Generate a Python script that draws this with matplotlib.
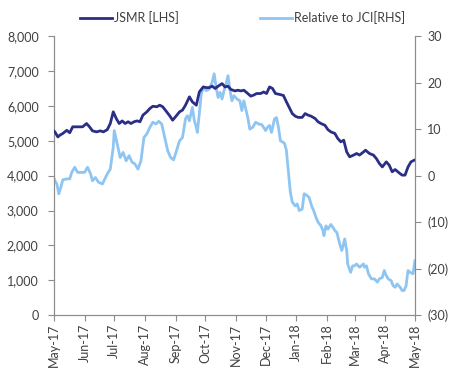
import matplotlib
matplotlib.use("Agg")
import matplotlib.pyplot as plt
import matplotlib.dates as mdates
import matplotlib.ticker as mticker
import pandas as pd

plt.rcParams['font.family'] = ['Lato', 'DejaVu Sans']

start = pd.Timestamp("2017-05-01")

# JSMR share price (LHS), days after 1 May 2017
jsmr_days = [0, 1, 4, 6, 9, 13, 16, 19, 23, 26, 29, 33, 36, 39, 43, 47, 50, 54, 57, 60,
             63, 66, 69, 72, 75, 78, 81, 84, 87, 90, 94, 97, 100, 104, 107, 110, 114, 117, 120, 123,
             127, 130, 133, 137, 140, 144, 147, 151, 154, 157, 160, 163, 166, 170, 173, 176, 179, 183, 186, 189,
             192, 196, 199, 202, 205, 209, 212, 215, 218, 221, 224, 228, 232, 235, 238, 241, 244, 247, 251, 254,
             257, 260, 264, 267, 270, 274, 277, 280, 284, 287, 290, 293, 296, 299, 303, 306, 309, 313, 315, 319,
             323, 326, 329, 332, 336, 339, 342, 345, 349, 352, 355, 358, 361, 364]
jsmr = [5280, 5255, 5110, 5160, 5210, 5300, 5230, 5400, 5400, 5400, 5400, 5495, 5400, 5285, 5255, 5285, 5255, 5320, 5495, 5830,
        5640, 5495, 5570, 5495, 5545, 5495, 5545, 5570, 5545, 5735, 5830, 5925, 5990, 5975, 6020, 5975, 5830, 5720, 5590, 5690,
        5830, 5880, 6020, 6260, 6115, 6020, 6400, 6545, 6525, 6525, 6565, 6500, 6565, 6640, 6545, 6565, 6470, 6430, 6450, 6430,
        6450, 6355, 6280, 6310, 6355, 6355, 6400, 6355, 6545, 6500, 6355, 6330, 6300, 6120, 5950, 5780, 5705, 5670, 5670, 5780,
        5735, 5705, 5640, 5545, 5495, 5445, 5320, 5255, 5210, 5065, 4970, 5015, 4680, 4540, 4590, 4635, 4590, 4680, 4730, 4635,
        4590, 4490, 4350, 4250, 4395, 4300, 4110, 4175, 4080, 4015, 4015, 4250, 4395, 4440]

# relative performance vs JCI (RHS)
rel_days = [0, 1, 3, 5, 7, 9, 13, 16, 18, 21, 24, 28, 31, 34, 37, 39, 42, 45, 49, 51,
            54, 57, 60, 61, 64, 67, 70, 73, 76, 79, 82, 85, 88, 91, 94, 97, 100, 103, 106, 109,
            112, 115, 118, 121, 124, 127, 130, 133, 135, 137, 140, 142, 144, 145, 147, 149, 151, 154, 157, 160,
            162, 164, 166, 168, 170, 172, 174, 176, 178, 180, 182, 185, 188, 190, 192, 194, 196, 198, 201, 204,
            207, 210, 212, 214, 216, 218, 220, 223, 225, 227, 229, 233, 235, 237, 239, 241, 244, 246, 248, 251,
            253, 256, 258, 261, 262, 265, 267, 270, 272, 273, 275, 277, 280, 282, 284, 286, 289, 291, 292, 294,
            296, 297, 300, 302, 304, 306, 309, 313, 314, 316, 318, 321, 324, 327, 329, 332, 334, 336, 338, 341,
            343, 345, 347, 350, 352, 354, 356, 358, 360, 363, 365]
rel = [-0.5, -1.1, -1.8, -3.9, -2.5, -0.9, -0.7, -0.7, 0.7, 1.8, 0.7, 0.7, 0.7, 1.8, 0.4, -1.1, -0.4, -1.4, -1.8, -0.9,
       0.4, 1.4, 6.1, 9.7, 6.8, 3.9, 5.0, 3.2, 4.3, 2.9, 2.5, 1.4, 3.2, 8.2, 9.0, 10.4, 11.5, 11.1, 11.7, 11.1,
       8.2, 5.4, 3.9, 3.4, 5.4, 7.5, 8.2, 12.2, 12.9, 11.8, 14.7, 11.8, 10.4, 9.3, 13.3, 17.6, 19.0, 18.3, 18.6, 20.1,
       21.9, 19.0, 16.8, 17.9, 16.5, 18.3, 19.7, 21.5, 18.3, 16.1, 17.2, 16.5, 16.1, 14.0, 16.1, 14.3, 12.5, 10.0, 10.4, 11.5,
       11.1, 11.0, 10.4, 9.7, 10.4, 10.8, 9.3, 12.2, 12.5, 10.4, 7.5, 7.0, 5.5, 1.1, -3.5, -5.7, -6.5, -6.1, -7.5, -7.2,
       -3.9, -4.3, -4.7, -6.8, -7.2, -9.0, -10.0, -10.8, -11.8, -12.9, -10.8, -11.5, -10.5, -11.1, -11.8, -12.2, -14.7, -16.1, -15.4, -13.6,
       -16.1, -19.0, -20.8, -19.4, -19.4, -19.0, -19.7, -19.0, -19.7, -19.4, -21.1, -22.2, -22.2, -22.9, -22.2, -21.9, -20.4, -21.5, -22.2, -22.6,
       -23.7, -24.0, -23.3, -24.0, -24.7, -24.7, -23.7, -20.4, -20.8, -21.1, -18.3]

jsmr_dates = start + pd.to_timedelta(jsmr_days, unit="D")
rel_dates = start + pd.to_timedelta(rel_days, unit="D")

dark = "#2B2E86"
light = "#8EC5F2"
grey = "#8C8C8C"
txt = "#404040"

fig = plt.figure(figsize=(4.53, 3.69), dpi=100)
ax = fig.add_axes([0.119, 0.146, 0.797, 0.756])
ax2 = ax.twinx()

l1, = ax.plot(jsmr_dates, jsmr, color=dark, lw=2.0, label="JSMR [LHS]", zorder=3)
l2, = ax2.plot(rel_dates, rel, color=light, lw=2.0, label="Relative to JCI[RHS]")
ax.set_zorder(ax2.get_zorder() + 1)
ax.patch.set_visible(False)

ax.set_ylim(0, 8000)
ax.set_yticks(range(0, 8001, 1000))
ax.yaxis.set_major_formatter(mticker.FuncFormatter(lambda v, p: f"{v:,.0f}"))
ax2.set_ylim(-30, 30)
ax2.set_yticks(range(-30, 31, 10))
ax2.yaxis.set_major_formatter(mticker.FuncFormatter(
    lambda v, p: f"({abs(v):.0f})" if v < 0 else f"{v:.0f}"))

ax.set_xlim(pd.Timestamp("2017-05-01"), pd.Timestamp("2018-05-01"))
ax.xaxis.set_major_locator(mdates.MonthLocator())
ax.xaxis.set_major_formatter(mdates.DateFormatter("%b-%y"))
for lab in ax.get_xticklabels():
    lab.set_rotation(90)

for a in (ax, ax2):
    a.spines["top"].set_visible(False)
    for s in ("left", "right", "bottom"):
        a.spines[s].set_color(grey)
        a.spines[s].set_linewidth(0.8)
    a.tick_params(colors=grey, labelcolor=txt, labelsize=9, length=4, width=0.8)
ax.tick_params(axis="y", pad=7)
ax2.tick_params(axis="y", pad=5)
ax.tick_params(axis="x", pad=2)

fig.legend(handles=[l1, l2], loc="upper center", bbox_to_anchor=(0.535, 1.0), ncol=2,
           frameon=False, fontsize=9, handlelength=2.6, handletextpad=0.1,
           columnspacing=6.5, labelcolor=txt)

fig.savefig("out.png", dpi=100)
